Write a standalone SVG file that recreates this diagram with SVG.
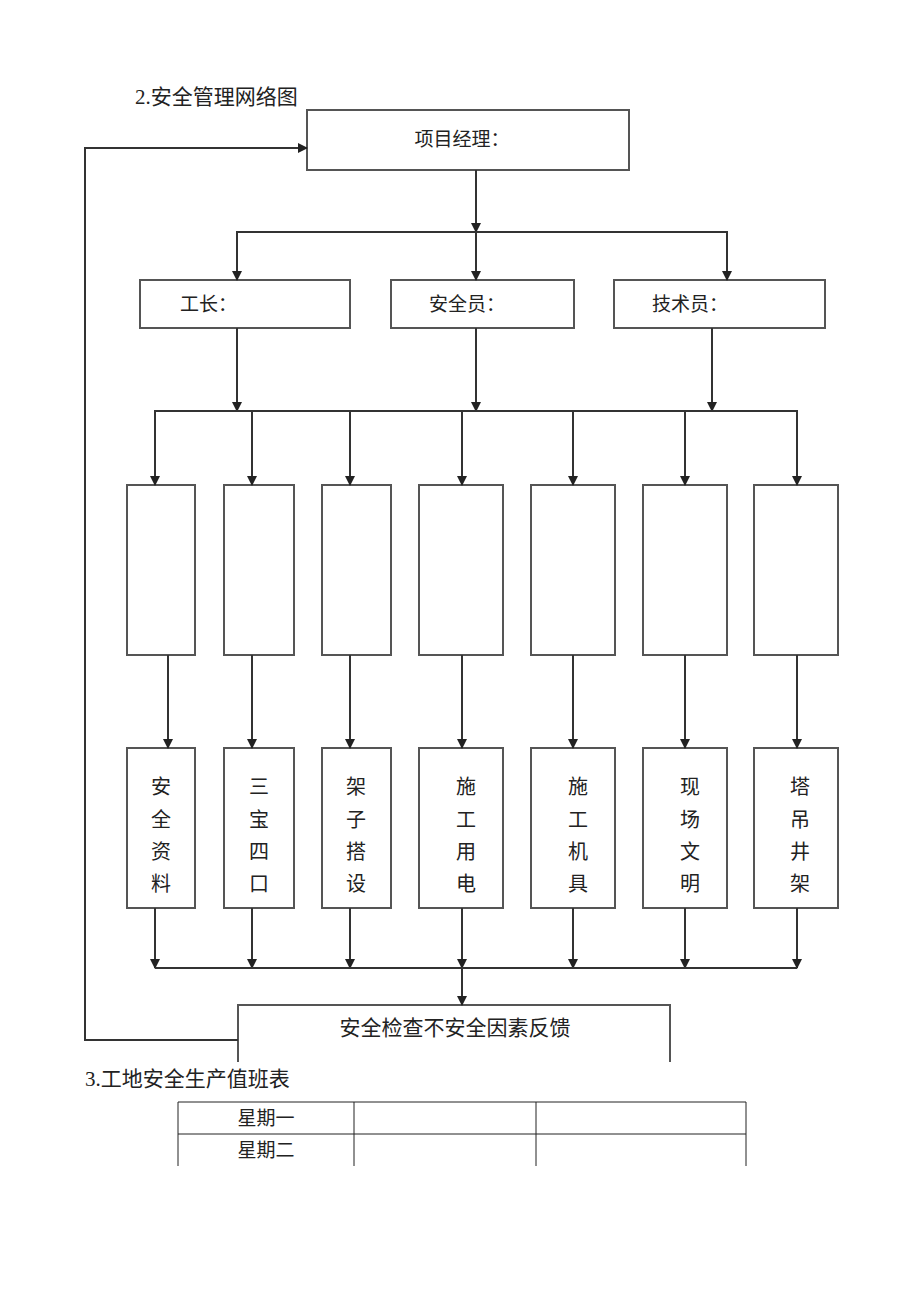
<svg xmlns="http://www.w3.org/2000/svg" width="920" height="1301" viewBox="0 0 920 1301">
<style>
text{font-family:"Liberation Serif","Noto Sans CJK SC",serif;fill:#222}
.box{fill:#fff;stroke:#555;stroke-width:2}
.ln{fill:none;stroke:#333;stroke-width:2}
.t19{font-size:19px}
.t20{font-size:20px}
.tb{fill:none;stroke:#222;stroke-width:1}
</style>
<defs>
<marker id="ah" markerWidth="10" markerHeight="10" refX="9" refY="5" orient="auto" markerUnits="userSpaceOnUse">
<path d="M0,0 L10,5 L0,10 Z" fill="#222"/>
</marker>
</defs>
<rect width="920" height="1301" fill="#fff"/>
<text x="135" y="104" font-size="21">2.安全管理网络图</text>

<g id="n-pm"><rect class="box" x="307" y="110" width="322" height="60"/><text x="462" y="146" class="t19" text-anchor="middle">项目经理：</text></g>
<g id="n-gz"><rect class="box" x="140" y="280" width="210" height="48"/><text x="180" y="311" class="t19">工长：</text></g>
<g id="n-aqy"><rect class="box" x="391" y="280" width="183" height="48"/><text x="429" y="311" class="t19">安全员：</text></g>
<g id="n-jsy"><rect class="box" x="614" y="280" width="211" height="48"/><text x="652" y="311" class="t19">技术员：</text></g>

<g id="n-e1"><rect class="box" x="127" y="485" width="68" height="170"/></g>
<g id="n-e2"><rect class="box" x="224" y="485" width="70" height="170"/></g>
<g id="n-e3"><rect class="box" x="322" y="485" width="69" height="170"/></g>
<g id="n-e4"><rect class="box" x="419" y="485" width="84" height="170"/></g>
<g id="n-e5"><rect class="box" x="531" y="485" width="84" height="170"/></g>
<g id="n-e6"><rect class="box" x="643" y="485" width="84" height="170"/></g>
<g id="n-e7"><rect class="box" x="754" y="485" width="84" height="170"/></g>

<g id="n-t1"><rect class="box" x="127" y="748" width="68" height="160"/><text class="t20" text-anchor="middle"><tspan x="161" y="794">安</tspan><tspan x="161" y="827">全</tspan><tspan x="161" y="859">资</tspan><tspan x="161" y="891">料</tspan></text></g>
<g id="n-t2"><rect class="box" x="224" y="748" width="70" height="160"/><text class="t20" text-anchor="middle"><tspan x="259" y="794">三</tspan><tspan x="259" y="827">宝</tspan><tspan x="259" y="859">四</tspan><tspan x="259" y="891">口</tspan></text></g>
<g id="n-t3"><rect class="box" x="322" y="748" width="69" height="160"/><text class="t20" text-anchor="middle"><tspan x="356" y="794">架</tspan><tspan x="356" y="827">子</tspan><tspan x="356" y="859">搭</tspan><tspan x="356" y="891">设</tspan></text></g>
<g id="n-t4"><rect class="box" x="419" y="748" width="84" height="160"/><text class="t20" text-anchor="middle"><tspan x="466" y="794">施</tspan><tspan x="466" y="827">工</tspan><tspan x="466" y="859">用</tspan><tspan x="466" y="891">电</tspan></text></g>
<g id="n-t5"><rect class="box" x="531" y="748" width="84" height="160"/><text class="t20" text-anchor="middle"><tspan x="578" y="794">施</tspan><tspan x="578" y="827">工</tspan><tspan x="578" y="859">机</tspan><tspan x="578" y="891">具</tspan></text></g>
<g id="n-t6"><rect class="box" x="643" y="748" width="84" height="160"/><text class="t20" text-anchor="middle"><tspan x="690" y="794">现</tspan><tspan x="690" y="827">场</tspan><tspan x="690" y="859">文</tspan><tspan x="690" y="891">明</tspan></text></g>
<g id="n-t7"><rect class="box" x="754" y="748" width="84" height="160"/><text class="t20" text-anchor="middle"><tspan x="800" y="794">塔</tspan><tspan x="800" y="827">吊</tspan><tspan x="800" y="859">井</tspan><tspan x="800" y="891">架</tspan></text></g>

<g id="n-fb"><path class="box" d="M238,1062 V1005 H670 V1062"/><text x="455" y="1035" font-size="21" text-anchor="middle">安全检查不安全因素反馈</text></g>

<g id="connectors">
<path class="ln" d="M476,170 V232" marker-end="url(#ah)"/>
<path class="ln" d="M476,232 V280" marker-end="url(#ah)"/>
<path class="ln" d="M237,280 V232 H727 V280"/>
<path class="ln" d="M237,270 V280" marker-end="url(#ah)"/>
<path class="ln" d="M727,270 V280" marker-end="url(#ah)"/>
<path class="ln" d="M237,328 V411" marker-end="url(#ah)"/>
<path class="ln" d="M476,328 V411" marker-end="url(#ah)"/>
<path class="ln" d="M712,328 V411" marker-end="url(#ah)"/>
<path class="ln" d="M155,485 V411 H797 V485"/>
<path class="ln" d="M155,411 V485" marker-end="url(#ah)"/>
<path class="ln" d="M252,411 V485" marker-end="url(#ah)"/>
<path class="ln" d="M350,411 V485" marker-end="url(#ah)"/>
<path class="ln" d="M462,411 V485" marker-end="url(#ah)"/>
<path class="ln" d="M573,411 V485" marker-end="url(#ah)"/>
<path class="ln" d="M685,411 V485" marker-end="url(#ah)"/>
<path class="ln" d="M797,411 V485" marker-end="url(#ah)"/>
<path class="ln" d="M168,655 V748" marker-end="url(#ah)"/>
<path class="ln" d="M252,655 V748" marker-end="url(#ah)"/>
<path class="ln" d="M350,655 V748" marker-end="url(#ah)"/>
<path class="ln" d="M462,655 V748" marker-end="url(#ah)"/>
<path class="ln" d="M573,655 V748" marker-end="url(#ah)"/>
<path class="ln" d="M685,655 V748" marker-end="url(#ah)"/>
<path class="ln" d="M797,655 V748" marker-end="url(#ah)"/>
<path class="ln" d="M155,908 V968" marker-end="url(#ah)"/>
<path class="ln" d="M252,908 V968" marker-end="url(#ah)"/>
<path class="ln" d="M350,908 V968" marker-end="url(#ah)"/>
<path class="ln" d="M462,908 V968" marker-end="url(#ah)"/>
<path class="ln" d="M573,908 V968" marker-end="url(#ah)"/>
<path class="ln" d="M685,908 V968" marker-end="url(#ah)"/>
<path class="ln" d="M797,908 V968" marker-end="url(#ah)"/>
<path class="ln" d="M155,968 H797"/>
<path class="ln" d="M462,968 V1005" marker-end="url(#ah)"/>
<path class="ln" d="M238,1040 H85 V148 H307" marker-end="url(#ah)"/>
</g>

<text x="85" y="1086" font-size="21">3.工地安全生产值班表</text>
<g id="table">
<path class="tb" d="M178,1166 V1102 H746 V1166 M178,1134 H746 M354,1102 V1166 M536,1102 V1166"/>
<text x="266" y="1125" font-size="19" text-anchor="middle">星期一</text>
<text x="266" y="1157" font-size="19" text-anchor="middle">星期二</text>
</g>
</svg>
